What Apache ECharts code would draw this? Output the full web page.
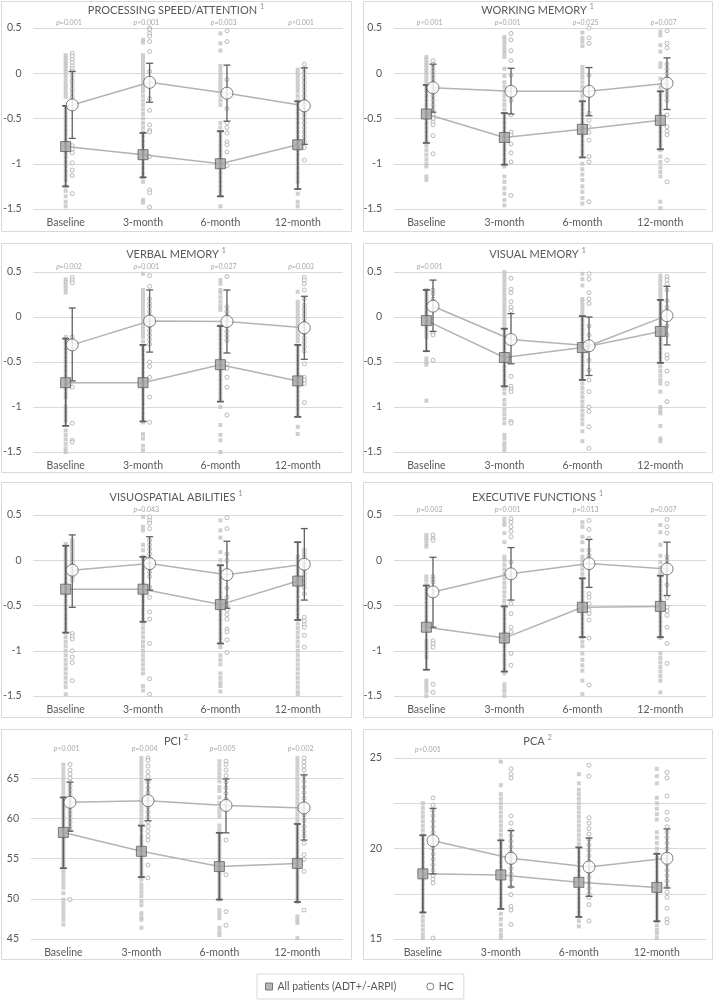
<!DOCTYPE html>
<html><head><meta charset="utf-8">
<script src="https://cdn.jsdelivr.net/npm/echarts@6/dist/echarts.min.js"></script>
<style>html,body{margin:0;padding:0;background:#fff}#c{width:714px;height:1000px}</style>
</head><body><div id="c"></div>
<script>
const categories = ['Baseline', '3-month', '6-month', '12-month'];
const panelTitles = ['PROCESSING SPEED/ATTENTION', 'WORKING MEMORY', 'VERBAL MEMORY', 'VISUAL MEMORY',
  'VISUOSPATIAL ABILITIES', 'EXECUTIVE FUNCTIONS', 'PCI', 'PCA'];
const titleNotes = ['1', '1', '1', '1', '1', '1', '2', '2'];
const seriesNames = ['All patients (ADT+/-ARPI)', 'HC'];

// y-axis settings per panel
const yMin = [-1.5, -1.5, -1.5, -1.5, -1.5, -1.5, 45, 15];
const yMax = [0.5, 0.5, 0.5, 0.5, 0.5, 0.5, 68, 25];
const yStep = [0.5, 0.5, 0.5, 0.5, 0.5, 0.5, 5, 2.5];

// p-values (null = none shown)
const pValues = [
  ['=0.001', '<0.001', '=0.003', '<0.001'],
  ['<0.001', '=0.001', '=0.025', '=0.007'],
  ['=0.002', '=0.001', '=0.027', '=0.003'],
  ['=0.001', null, null, null],
  [null, '=0.043', null, null],
  ['=0.002', '<0.001', '=0.013', '=0.007'],
  ['<0.001', '=0.004', '=0.005', '=0.002'],
  ['<0.001', null, null, null]
];

// group means and SD bounds, one row per panel
const ptMean = [
  [-0.81, -0.9, -1.0, -0.79], [-0.45, -0.71, -0.62, -0.52], [-0.73, -0.73, -0.53, -0.71], [-0.04, -0.45, -0.34, -0.16],
  [-0.32, -0.32, -0.49, -0.23], [-0.74, -0.86, -0.52, -0.51], [58.25, 55.9, 54.0, 54.4], [18.6, 18.54, 18.13, 17.85]];
const ptLow = [
  [-1.25, -1.15, -1.36, -1.28], [-0.77, -1.01, -0.93, -0.84], [-1.21, -1.16, -0.94, -1.11], [-0.38, -0.77, -0.7, -0.51],
  [-0.8, -0.68, -0.92, -0.66], [-1.21, -1.23, -0.85, -0.85], [53.8, 52.7, 49.9, 49.6], [16.47, 16.66, 16.22, 15.98]];
const ptHigh = [
  [-0.36, -0.66, -0.64, -0.31], [-0.13, -0.44, -0.31, -0.2], [-0.24, -0.31, -0.1, -0.31], [0.3, -0.13, 0.01, 0.19],
  [0.16, 0.037, -0.055, 0.2], [-0.28, -0.51, -0.2, -0.17], [62.6, 59.1, 58.2, 59.3], [20.73, 20.45, 20.06, 19.7]];
const hcMean = [
  [-0.35, -0.1, -0.22, -0.36], [-0.16, -0.2, -0.2, -0.11], [-0.31, -0.045, -0.05, -0.12], [0.12, -0.25, -0.32, 0.015],
  [-0.11, -0.037, -0.16, -0.044], [-0.35, -0.15, -0.037, -0.096], [62.0, 62.2, 61.6, 61.3], [20.43, 19.46, 18.98, 19.46]];
const hcLow = [
  [-0.72, -0.32, -0.53, -0.785], [-0.43, -0.45, -0.47, -0.4], [-0.71, -0.39, -0.4, -0.47], [-0.16, -0.52, -0.65, -0.31],
  [-0.52, -0.33, -0.53, -0.44], [-0.74, -0.44, -0.3, -0.39], [58.4, 59.7, 58.2, 57.3], [18.6, 17.87, 17.36, 17.82]];
const hcHigh = [
  [0.02, 0.11, 0.09, 0.06], [0.1, 0.055, 0.063, 0.17], [0.1, 0.3, 0.3, 0.23], [0.41, 0.037, 0, 0.34],
  [0.28, 0.26, 0.21, 0.35], [0.033, 0.14, 0.23, 0.2], [64.5, 64.8, 64.9, 65.4], [22.22, 20.99, 20.58, 21.08]];

// individual scores (patients), per time point
const ptDotsPS = [
  [0.2,0.17,0.14,0.11,0.08,0.05,0.02,-0.02,-0.06,-0.1,-0.14,-0.18,-0.22,-0.26,-0.38,-0.43,-0.48,-0.53,-0.58,-0.63,-0.68,-0.73,-0.78,-0.83,-0.88,-0.93,-0.98,-1.03,-1.08,-1.13,-1.18,-1.25,-1.3,-1.36,-1.42,-1.47],
  [0.37,0.34,0.2,0.16,0.12,0.08,0.04,0,-0.04,-0.08,-0.12,-0.16,-0.2,-0.25,-0.3,-0.35,-0.4,-0.45,-0.5,-0.55,-0.6,-0.65,-0.7,-0.75,-0.8,-0.85,-0.9,-0.95,-1.0,-1.05,-1.1,-1.15,-1.2,-1.4,-1.43],
  [0.44,0.33,0.25,0.08,0.04,0,-0.04,-0.08,-0.12,-0.16,-0.2,-0.25,-0.3,-0.35,-0.55,-0.6,-0.65,-0.7,-0.75,-0.8,-0.85,-0.9,-0.95,-1.0,-1.05,-1.1,-1.15,-1.2,-1.25,-1.3,-1.35,-1.47],
  [0.04,0,-0.04,-0.08,-0.12,-0.16,-0.2,-0.25,-0.3,-0.35,-0.4,-0.45,-0.5,-0.55,-0.6,-0.65,-0.7,-0.75,-0.8,-0.85,-0.9,-0.95,-1.0,-1.05,-1.1,-1.15,-1.2,-1.33,-1.42,-1.47]];
const ptDotsWM = [
  [0.18,0.15,0.12,0.09,0.06,0.03,0,-0.04,-0.08,-0.12,-0.16,-0.2,-0.25,-0.3,-0.35,-0.4,-0.45,-0.5,-0.55,-0.6,-0.65,-0.7,-0.75,-0.8,-0.85,-0.9,-0.95,-1.0,-1.03,-1.14,-1.18],
  [0.4,0.37,0.33,0.29,0.25,0.22,0.18,0.05,-0.03,-0.1,-0.15,-0.2,-0.25,-0.3,-0.35,-0.4,-0.45,-0.5,-0.55,-0.6,-0.65,-0.7,-0.75,-0.8,-0.85,-0.9,-0.95,-1.0,-1.03,-1.14,-1.2,-1.27,-1.33,-1.4,-1.46],
  [0.45,0.39,0.35,0.3,0.07,0.03,-0.01,-0.05,-0.1,-0.15,-0.2,-0.25,-0.3,-0.35,-0.4,-0.45,-0.5,-0.55,-0.6,-0.65,-0.7,-0.75,-0.8,-0.85,-0.89,-1.0,-1.06,-1.12,-1.18,-1.25,-1.31,-1.38,-1.44],
  [0.46,0.42,0.31,0.24,0.11,0.07,-0.06,-0.15,-0.2,-0.25,-0.3,-0.35,-0.4,-0.45,-0.5,-0.55,-0.6,-0.65,-0.7,-0.75,-0.8,-0.85,-0.92,-0.98,-1.04,-1.09,-1.14,-1.42,-1.49]];
const ptDotsVeM = [
  [0.42,0.39,0.35,0.31,0.27,-0.22,-0.26,-0.3,-0.35,-0.4,-0.45,-0.5,-0.55,-0.6,-0.65,-0.7,-0.75,-0.8,-0.85,-0.89,-1.0,-1.05,-1.1,-1.15,-1.26,-1.31,-1.36,-1.41,-1.46,-1.5],
  [0.48,0.3,0.26,0.22,0.18,0.14,0.1,0.06,0.02,-0.02,-0.06,-0.1,-0.14,-0.18,-0.22,-0.27,-0.32,-0.37,-0.42,-0.47,-0.52,-0.57,-0.62,-0.67,-0.72,-0.77,-0.82,-0.87,-0.92,-0.97,-1.02,-1.07,-1.12,-1.17,-1.3,-1.35,-1.43,-1.48],
  [0.41,0.37,0.3,0.27,0.22,0.17,0.12,0.08,-0.1,-0.15,-0.2,-0.25,-0.3,-0.35,-0.4,-0.45,-0.5,-0.55,-0.6,-0.65,-0.7,-0.75,-0.8,-0.85,-0.9,-1.0,-1.2,-1.31,-1.37,-1.5],
  [0.28,0.17,0.13,0.09,0.05,0.01,-0.03,-0.07,-0.11,-0.15,-0.19,-0.23,-0.27,-0.33,-0.38,-0.43,-0.48,-0.53,-0.58,-0.63,-0.68,-0.73,-0.78,-0.83,-0.88,-0.93,-0.98,-1.03,-1.08,-1.22,-1.3]];
const ptDotsViM = [
  [0.3,0.26,0.22,0.18,0.14,0.1,0.06,0.02,-0.02,-0.06,-0.1,-0.14,-0.18,-0.22,-0.46,-0.5,-0.53,-0.93],
  [0.5,0.46,0.42,0.38,0.34,0.3,0.26,0.22,0.18,0.14,0.1,0.06,0.02,-0.02,-0.06,-0.1,-0.15,-0.2,-0.25,-0.3,-0.35,-0.4,-0.45,-0.5,-0.55,-0.6,-0.65,-0.7,-0.75,-0.8,-0.85,-0.92,-0.97,-1.03,-1.08,-1.13,-1.18,-1.31,-1.35,-1.4,-1.44,-1.48],
  [0.48,0.42,0.35,0.2,0.17,0.13,0.09,0.05,0.01,-0.04,-0.09,-0.14,-0.19,-0.24,-0.29,-0.34,-0.39,-0.44,-0.49,-0.54,-0.59,-0.64,-0.69,-0.74,-0.79,-0.84,-0.89,-0.94,-0.99,-1.04,-1.09,-1.14,-1.19,-1.27,-1.38],
  [0.46,0.42,0.38,0.34,0.3,0.26,0.22,0.18,0.14,0.1,0.06,0.02,-0.02,-0.06,-0.1,-0.15,-0.2,-0.25,-0.3,-0.35,-0.4,-0.45,-0.5,-0.55,-0.6,-0.65,-0.7,-0.74,-0.83,-1.0,-1.04,-1.07,-1.21,-1.35,-1.38]];
const ptDotsVS = [
  [0.18,0.14,0.1,0.06,0.02,-0.02,-0.06,-0.1,-0.15,-0.2,-0.25,-0.3,-0.35,-0.4,-0.45,-0.5,-0.55,-0.6,-0.65,-0.7,-0.75,-0.8,-0.85,-0.9,-0.95,-1.0,-1.05,-1.1,-1.15,-1.2,-1.25,-1.3,-1.35,-1.4,-1.48],
  [0.48,0.37,0.33,0.17,0.11,0.04,0,-0.05,-0.1,-0.15,-0.2,-0.25,-0.3,-0.35,-0.4,-0.45,-0.5,-0.55,-0.6,-0.65,-0.7,-0.75,-0.8,-0.85,-0.9,-0.95,-1.0,-1.05,-1.1,-1.15,-1.2,-1.25,-1.39,-1.44],
  [0.44,0.33,0.25,0.09,0,-0.06,-0.11,-0.16,-0.21,-0.26,-0.31,-0.36,-0.41,-0.46,-0.51,-0.56,-0.61,-0.66,-0.71,-0.76,-0.81,-0.86,-0.91,-0.96,-1.05,-1.1,-1.15,-1.25,-1.3,-1.35,-1.39,-1.45],
  [0.04,0,-0.04,-0.08,-0.12,-0.16,-0.2,-0.25,-0.3,-0.35,-0.4,-0.45,-0.5,-0.55,-0.6,-0.65,-0.7,-0.75,-0.8,-0.85,-0.9,-0.95,-1.0,-1.05,-1.1,-1.15,-1.2,-1.25,-1.3,-1.35,-1.4,-1.45,-1.48]];
const ptDotsEF = [
  [0.28,0.25,0.22,0.18,0.15,-0.18,-0.22,-0.27,-0.32,-0.37,-0.42,-0.47,-0.52,-0.57,-0.62,-0.67,-0.72,-0.89,-0.93,-0.97,-1.02,-1.07,-1.33,-1.37,-1.41,-1.45,-1.5],
  [0.46,0.42,0.39,0.3,0.2,0.04,0,-0.05,-0.1,-0.15,-0.2,-0.25,-0.3,-0.35,-0.4,-0.45,-0.5,-0.55,-0.6,-0.65,-0.7,-0.75,-0.8,-0.85,-0.9,-0.95,-1.0,-1.05,-1.1,-1.15,-1.2,-1.25,-1.37,-1.41,-1.45,-1.5],
  [0.42,0.37,0.26,0.2,0.11,0.04,0,-0.05,-0.1,-0.15,-0.2,-0.25,-0.3,-0.35,-0.4,-0.45,-0.5,-0.55,-0.6,-0.65,-0.7,-0.75,-0.8,-0.85,-0.9,-0.95,-1.03,-1.1,-1.16,-1.22,-1.33,-1.48],
  [0.39,0.31,0.17,0.05,-0.02,-0.08,-0.13,-0.18,-0.23,-0.28,-0.33,-0.38,-0.43,-0.48,-0.53,-0.58,-0.63,-0.68,-0.73,-0.78,-0.83,-0.86,-1.03,-1.08,-1.13,-1.18,-1.23,-1.28,-1.33,-1.46]];
const ptDotsPCI = [
  [66.7,66.2,65.7,65.2,64.7,64.2,63.7,63.2,62.7,62.2,61.7,61.2,60.7,60.2,59.7,59.2,58.7,57.7,57.2,56.7,56.2,55.7,55.2,54.7,54.2,53.4,52.9,52.4,51.9,51.4,50.7,49.9,49.4,48.9,48.4,47.9,47.4,46.8],
  [67.5,67,66.5,66,65.5,65,64.5,64,63.5,63,62.5,62,61.5,61,60.5,60,59.5,59,58.5,57.8,57.3,56.8,56.3,55.3,54.8,54.3,53.8,53.3,52.8,52.4,51.8,51.3,50.8,50.3,49.7,49.2,48.2,47.7,47.4,46.4],
  [67.1,66.6,66.1,65.6,65.1,64.6,63.9,63.4,62.6,61.9,61.2,60.7,60.2,59.1,58.6,58.1,57.6,57.1,56.6,56.1,55.6,55.1,54.6,54.1,53.6,53.1,52.6,52.1,51.6,51.1,50.6,50.1,49.9,48.6,48.1,47.6,46.4,45.9,45.5],
  [67.5,67,66.5,66,65.5,65,64.5,64,63.5,63,62.5,62,61.5,61,60.5,60,59.6,59.1,58.6,58.1,57.6,57.1,56.6,56.1,55.6,55.1,54.6,54.1,53.6,53.1,52.6,52.1,51.6,51.1,50.6,50.1,49.6,47.8,47.4,47,45.1]];
const ptDotsPCA = [
  [22.5,22.25,22,21.75,21.5,21.25,21,20.75,20.5,20.25,20,19.75,19.5,19.25,19,18.75,18.5,18.25,18,17.75,17.5,17.25,17,16.75,16.5,16.25,16,15.75,15.5,15.25,15.05],
  [24.8,23.5,23,22.75,22.5,22.25,22,21.75,21.5,21.25,21,20.75,20.5,20.25,20,19.75,19.5,19.25,19,18.75,18.5,18.25,18,17.75,17.5,17.25,17,16.8,16.4,16.1,15.8,15.5,15.25,15.05],
  [24.1,23.6,23.25,23,22.75,22.5,22.25,22,21.75,21.5,21.25,21,20.75,20.5,20.25,20,19.75,19.5,19.25,19,18.75,18.5,18.25,18,17.75,17.5,17.25,17,16.75,16.5,16.25,16,15.7],
  [24.4,24,23.6,22.8,22.5,22.2,21.9,21.6,20.9,20.6,20.3,20,19.75,19.5,19.25,19,18.75,18.5,18.25,18,17.75,17.5,17.25,17,16.75,16.5,16.25,16,15.75,15.5,15.3,15.05]];

// individual scores (HC), per time point
const hcDotsPS = [
  [0.22,0.19,0.15,0.12,0.08,0.05,0.02,-0.03,-0.08,-0.12,-0.17,-0.21,-0.26,-0.8,-0.84,-0.88,-0.99,-1.07,-1.13,-1.33],
  [0.5,0.48,0.44,0.41,0.35,0.24,0.02,-0.28,-0.41,-0.57,-0.63,-0.65,-0.92,-1.29,-1.32,-1.48],
  [0.47,0.35,-0.07,-0.26,-0.39,-0.55,-0.6,-0.66,-0.76,-0.79,-0.87,-1.02],
  [0.1,0.05,0,-0.05,-0.1,-0.15,-0.2,-0.25,-0.3,-0.35,-0.4,-0.45,-0.5,-0.55,-0.6,-0.65,-0.7,-0.75,-0.82,-0.96]];
const hcDotsWM = [
  [0.14,0.1,0.06,0.02,-0.02,-0.06,-0.1,-0.15,-0.2,-0.25,-0.3,-0.35,-0.4,-0.46,-0.5,-0.54,-0.57,-0.69,-0.89],
  [0.44,0.37,0.25,0.14,-0.02,-0.3,-0.46,-0.65,-0.68,-0.78,-0.88,-0.98,-1.35],
  [0.5,0.39,0.33,-0.02,-0.44,-0.52,-0.59,-0.65,-0.74,-0.92,-0.98,-1.42],
  [0.47,0.33,0.28,0.1,0.05,0,-0.05,-0.1,-0.15,-0.2,-0.25,-0.3,-0.46,-0.59,-0.64,-0.68,-0.96,-1.2]];
const hcDotsVeM = [
  [0.44,0.41,0.38,-0.22,-0.27,-0.78,-1.18,-1.37,-1.39],
  [0.46,0.34,0.2,0.15,0.11,0.06,0.01,-0.05,-0.1,-0.15,-0.2,-0.25,-0.3,-0.5,-0.55,-0.67,-0.89,-1.17],
  [0.45,0.11,0.06,0.01,-0.04,-0.1,-0.16,-0.21,-0.26,-0.52,-0.57,-0.67,-0.78,-1.09],
  [0.44,0.41,0.37,0.3,0.2,0.13,0.08,0.03,-0.02,-0.07,-0.13,-0.18,-0.23,-0.28,-0.33,-0.38,-0.52,-0.67,-0.7,-0.74,-0.95]];
const hcDotsViM = [
  [0.3,0.26,0.2,-0.18,-0.2,-0.48],
  [0.43,0.31,0.27,0.17,0.11,0.07,-0.66,-0.77,-0.8,-0.83,-1.16,-1.18],
  [0.48,0.42,0.27,0.2,0.15,-0.1,-0.2,-0.48,-0.59,-0.7,-0.83,-1.0,-1.05,-1.22,-1.46],
  [0.45,0.41,0.37,0.3,0.18,0.11,-0.1,-0.2,-0.42,-0.46,-0.6,-0.74,-0.94]];
const hcDotsVS = [
  [0.22,0.18,0.14,0.1,0.06,0.02,-0.02,-0.06,-0.1,-0.14,-0.18,-0.22,-0.81,-0.84,-0.87,-1.0,-1.07,-1.13,-1.33],
  [0.48,0.44,0.41,0.35,0.22,0.17,0.12,0.07,0.02,-0.03,-0.08,-0.13,-0.18,-0.3,-0.41,-0.57,-0.65,-0.92,-1.31,-1.48],
  [0.47,0.35,0.07,0,-0.31,-0.41,-0.5,-0.55,-0.6,-0.65,-0.76,-0.79,-0.88,-1.02],
  [0.11,0.07,0.03,-0.01,-0.05,-0.1,-0.15,-0.2,-0.25,-0.3,-0.37,-0.63,-0.67,-0.71,-0.74,-0.83,-0.96]];
const hcDotsEF = [
  [0.28,0.24,0.22,-0.18,-0.21,-0.24,-0.89,-0.92,-0.96,-1.37,-1.46],
  [0.46,0.42,0.37,0.32,0.26,-0.02,-0.48,-0.59,-0.74,-0.79,-1.03,-1.16],
  [0.44,0.34,0.24,0.11,0.055,-0.37,-0.41,-0.48,-0.55,-0.59,-0.66,-0.86,-1.38],
  [0.45,0.37,0.3,0.04,0,-0.04,-0.07,-0.27,-0.41,-0.52,-0.56,-0.61,-0.74,-0.92,-1.14]];
const hcDotsPCI = [
  [66.7,66,65.5,65,64.5,64,63.5,63,62.5,62,61.5,61,60.5,60,59.5,59,58.6,49.9],
  [67.5,67.2,66.5,65.8,65.2,64.5,63.8,63.2,62.6,62,61.4,60.8,60.2,59.6,59,58.4,57.8,57.3,54.2,52.6],
  [67.1,66.7,66,65.3,64.5,63.8,63.1,62.4,61.8,61.5,57.3,53,48.4,46.7],
  [67.5,67,66.5,66,65.3,64.6,63.9,63.2,62.5,61.8,61.1,60.4,59.7,59,58.4,57.8,56.9,55.5,54.9,53.4,48.6]];
const hcDotsPCA = [
  [22.8,22.4,22.1,21.8,21.5,21.2,20.9,20.6,20.3,20,19.7,19.4,19.1,18.8,18.5,18.3,18.1,15.05],
  [24.4,24.1,23.9,21.8,21.4,21,20.7,20.4,20.1,19.8,19.5,19.2,18.9,18.6,18.3,17.9,17.45,16.8,16.6,15.8],
  [24.6,24,21.7,21.4,21.1,20.8,20.5,20.2,19.9,19.6,19.3,19,18.7,18.4,18.1,17.8,17.5,17.3,16.9,16],
  [24.2,23.9,22.9,22,21.6,21.2,20.9,20.6,20.3,20,19.7,19.4,19.1,18.8,18.5,18.2,17.9,17.6,17.3,16.7,16.1,15.9]];

const ptDots = [ptDotsPS, ptDotsWM, ptDotsVeM, ptDotsViM, ptDotsVS, ptDotsEF, ptDotsPCI, ptDotsPCA];
const hcDots = [hcDotsPS, hcDotsWM, hcDotsVeM, hcDotsViM, hcDotsVS, hcDotsEF, hcDotsPCI, hcDotsPCA];

// ---------- layout / style ----------
const FONT = 'Lato';
const TXT = '#595959';
const colLeft = [31, 394];
const plotW = 312;
const plotTop = [28, 28, 272, 272, 515, 515, 754, 758];
const plotBottom = [209, 209, 452, 452, 696, 696, 939, 939];
const boxX = [1, 363], boxW = [350, 349];
const boxY = [1, 243, 482, 729], boxBottom = [231, 472, 717, 959];
const titleY = [10, 254, 497, 741];
const shift = [0.085, 0.085, 0.085, 0.085, 0.085, 0.085, 0.085, 0.13];

const chart = echarts.init(document.getElementById('c'), null, {renderer: 'canvas'});

const grids = [], xAxes = [], yAxes = [], series = [], titles = [], graphics = [];

for (let k = 0; k < 8; k++) {
  const col = k % 2, row = Math.floor(k / 2);
  const off = shift[k];
  grids.push({left: colLeft[col], top: plotTop[k], width: plotW, height: plotBottom[k] - plotTop[k], containLabel: false});
  xAxes.push({
    type: 'value', gridIndex: k, min: 0.5, max: 4.5,
    axisLine: {show: false}, axisTick: {show: false}, splitLine: {show: false},
    axisLabel: {
      customValues: categories.map((c, i) => i + 1 - off),
      formatter: v => categories[Math.round(v + off) - 1] || '',
      color: TXT, fontSize: 10.5, fontFamily: FONT, margin: 8
    }
  });
  const isPCA = k === 7, isPCI = k === 6;
  yAxes.push({
    type: 'value', gridIndex: k, min: yMin[k], max: yMax[k], interval: yStep[k],
    axisLine: {show: false}, axisTick: {show: false},
    splitLine: {show: true, showMaxLine: !isPCI, lineStyle: {color: '#d9d9d9', width: 1}},
    axisLabel: {
      color: TXT, fontSize: 10.5, fontFamily: FONT, margin: 12, showMaxLabel: !isPCI,
      formatter: v => {
        if (isPCA && Math.abs(v % 5) > 1e-9) return '';
        if (isPCI && v > 65) return '';
        return String(v);
      }
    }
  });

  // individual dots
  const pd = [], hd = [];
  ptDots[k].forEach((arr, i) => arr.forEach(v => pd.push([i + 1 - off, v])));
  hcDots[k].forEach((arr, i) => arr.forEach(v => hd.push([i + 1, v])));
  series.push({type: 'scatter', xAxisIndex: k, yAxisIndex: k, data: pd, symbol: 'rect', symbolSize: 4,
    itemStyle: {color: '#c3c3c3'}, silent: true, z: 1, animation: false});
  series.push({type: 'scatter', xAxisIndex: k, yAxisIndex: k, data: hd, symbol: 'circle', symbolSize: 4,
    itemStyle: {color: '#ffffff', borderColor: '#a9a9a9', borderWidth: 1}, silent: true, z: 1, animation: false});

  // connecting lines
  series.push({type: 'line', xAxisIndex: k, yAxisIndex: k, data: ptMean[k].map((v, i) => [i + 1 - off, v]),
    symbol: 'none', lineStyle: {color: '#b3b3b3', width: 1.5}, silent: true, z: 2, animation: false});
  series.push({type: 'line', xAxisIndex: k, yAxisIndex: k, data: hcMean[k].map((v, i) => [i + 1, v]),
    symbol: 'none', lineStyle: {color: '#b3b3b3', width: 1.5}, silent: true, z: 2, animation: false});

  // error bars
  const errRender = (lw, color) => (params, api) => {
    const x = api.value(0);
    const p1 = api.coord([x, api.value(1)]);
    const p2 = api.coord([x, api.value(2)]);
    const hw = 3.5;
    const st = {stroke: color, lineWidth: lw};
    return {type: 'group', children: [
      {type: 'line', shape: {x1: p1[0], y1: p1[1], x2: p2[0], y2: p2[1]}, style: st},
      {type: 'line', shape: {x1: p1[0] - hw, y1: p1[1], x2: p1[0] + hw, y2: p1[1]}, style: st},
      {type: 'line', shape: {x1: p2[0] - hw, y1: p2[1], x2: p2[0] + hw, y2: p2[1]}, style: st}
    ]};
  };
  series.push({type: 'custom', xAxisIndex: k, yAxisIndex: k, renderItem: errRender(1.8, '#5f5f5f'),
    data: ptLow[k].map((v, i) => [i + 1 - off, v, ptHigh[k][i]]), encode: {x: 0, y: [1, 2]}, z: 3, silent: true, animation: false});
  series.push({type: 'custom', xAxisIndex: k, yAxisIndex: k, renderItem: errRender(1.3, '#5f5f5f'),
    data: hcLow[k].map((v, i) => [i + 1, v, hcHigh[k][i]]), encode: {x: 0, y: [1, 2]}, z: 3, silent: true, animation: false});

  // means
  series.push({name: seriesNames[0], type: 'scatter', xAxisIndex: k, yAxisIndex: k,
    data: ptMean[k].map((v, i) => [i + 1 - off, v]), symbol: 'rect', symbolSize: 10,
    itemStyle: {color: '#a5a5a5', borderColor: '#5f5f5f', borderWidth: 1}, z: 5, silent: true, animation: false});
  series.push({name: seriesNames[1], type: 'scatter', xAxisIndex: k, yAxisIndex: k,
    data: hcMean[k].map((v, i) => [i + 1, v]), symbol: 'circle', symbolSize: 12,
    itemStyle: {color: '#ffffff', borderColor: '#5f5f5f', borderWidth: 1}, z: 5, silent: true, animation: false});

  // p-values
  const pv = [];
  pValues[k].forEach((p, i) => { if (p) pv.push([i + 1 - off / 2, yMax[k], i]); });
  series.push({type: 'custom', xAxisIndex: k, yAxisIndex: k, data: pv, silent: true, z: 6, animation: false,
    renderItem: (params, api) => {
      const pt = api.coord([api.value(0), api.value(1)]);
      const txt = pValues[k][api.value(2)];
      return {type: 'text', x: pt[0], y: pt[1] - (isPCA ? 5 : 2), style: {
        text: '{i|p}{n|' + txt + '}', align: 'center', verticalAlign: 'bottom',
        rich: {i: {fontStyle: 'italic', fontSize: 7, fill: '#a6a6a6', fontFamily: FONT},
               n: {fontSize: 7, fill: '#a6a6a6', fontFamily: FONT}}
      }};
    }});

  // titles
  titles.push({
    text: '{t|' + panelTitles[k] + '}{s|' + titleNotes[k] + '}',
    left: boxX[col] + boxW[col] / 2, top: titleY[row] - 7, textAlign: 'center', padding: 0,
    textStyle: {fontWeight: 'normal', rich: {
      t: {fontSize: 11, color: TXT, fontFamily: FONT, fontWeight: 'normal', lineHeight: 14},
      s: {fontSize: 7, color: '#8a8a8a', fontFamily: FONT, fontWeight: 'normal', verticalAlign: 'top', padding: [0, 0, 0, 3], lineHeight: 14}
    }}
  });

  // panel border
  graphics.push({type: 'rect', silent: true, z: -1,
    shape: {x: boxX[col] + 0.5, y: boxY[row] + 0.5, width: boxW[col], height: boxBottom[row] - boxY[row]},
    style: {fill: 'none', stroke: '#d9d9d9', lineWidth: 1}});
}

const option = {
  backgroundColor: '#ffffff',
  animation: false,
  title: titles,
  grid: grids,
  xAxis: xAxes,
  yAxis: yAxes,
  series: series,
  graphic: graphics,
  legend: {
    left: 257, top: 974, padding: [7, 10, 7, 8], borderColor: '#d9d9d9', borderWidth: 1,
    itemWidth: 7, itemHeight: 7, itemGap: 30, selectedMode: false,
    textStyle: {color: TXT, fontSize: 10.5, fontFamily: FONT},
    data: [
      {name: seriesNames[0], icon: 'rect', itemStyle: {color: '#a5a5a5', borderColor: '#5f5f5f', borderWidth: 1}},
      {name: seriesNames[1], icon: 'circle', itemStyle: {color: '#ffffff', borderColor: '#5f5f5f', borderWidth: 1}}
    ]
  }
};
chart.setOption(option);
</script></body></html>
